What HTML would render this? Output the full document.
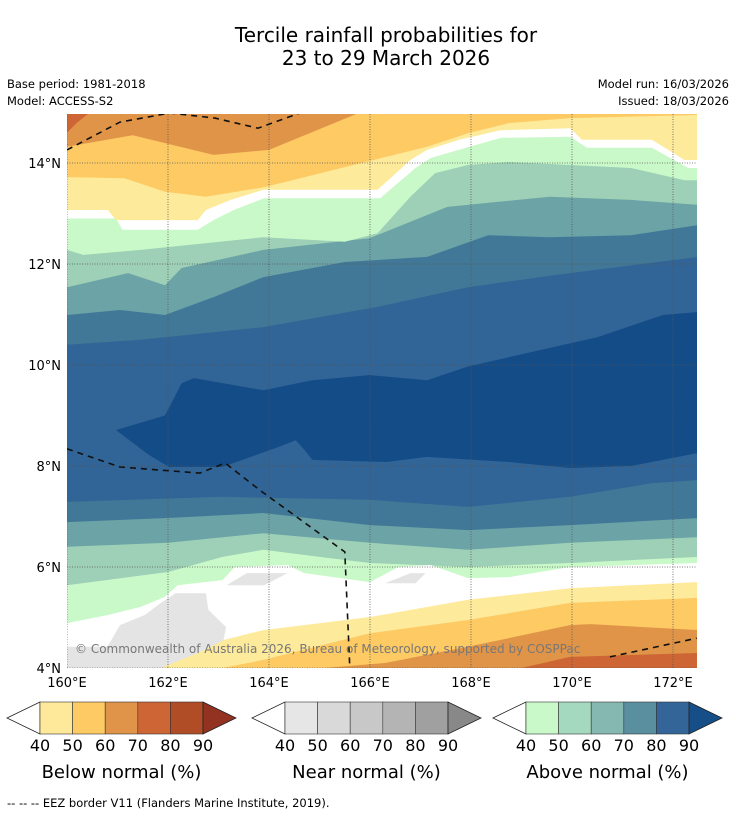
<!DOCTYPE html>
<html><head><meta charset="utf-8"><style>
html,body{margin:0;padding:0;background:#fff;}
body{width:736px;height:816px;overflow:hidden;font-family:"DejaVu Sans","Liberation Sans",sans-serif;}
svg text{font-family:"DejaVu Sans","Liberation Sans",sans-serif;}
</style></head><body>
<svg id="chart" width="736" height="816" viewBox="0 0 736 816" xmlns="http://www.w3.org/2000/svg">
<text x="386" y="42" font-size="20" text-anchor="middle">Tercile rainfall probabilities for</text>
<text x="386" y="65" font-size="20" text-anchor="middle">23 to 29 March 2026</text>
<text x="7" y="88" font-size="11.5">Base period: 1981-2018</text>
<text x="7" y="105" font-size="11.5">Model: ACCESS-S2</text>
<text x="729" y="88" font-size="11.5" text-anchor="end">Model run: 16/03/2026</text>
<text x="729" y="105" font-size="11.5" text-anchor="end">Issued: 18/03/2026</text>
<defs><clipPath id="mapclip"><rect x="67" y="114" width="630" height="554"/></clipPath></defs>
<g id="map" clip-path="url(#mapclip)"></g>
<g id="axes"></g>
<g id="legend"></g>
<text x="7" y="807" font-size="11.5">--  --  -- EEZ border V11 (Flanders Marine Institute, 2019).</text>
</svg>
<script>
// ---- data: contour boundaries as [lon, lat] pairs ----
const upperB70 = [[160,14.6],[160.2,14.8],[160.45,15.0]];
const upperB60 = [[160,14.32],[161.3,14.55],[162.9,14.16],[164,14.26],[165.8,15.0],[172.5,15.0]];
const upperB50 = [[160,13.72],[161.13,13.70],[161.94,13.43],[162.75,13.33],[163.9,13.52],[165.83,14.0],[167.13,14.32],[167.94,14.59],[168.75,14.79],[169.96,14.89],[172.5,14.95]];
const upperB40 = [[160,13.07],[160.81,13.07],[160.97,12.87],[162.59,12.87],[162.75,13.07],[163.24,13.27],[163.89,13.47],[166.15,13.47],[166.8,14.06],[167.13,14.26],[167.77,14.46],[168.58,14.65],[169.96,14.69],[170.2,14.46],[171.58,14.46],[172.23,14.06],[172.5,14.06]];
const upperWhite = [[160,12.9],[160.97,12.9],[161.1,12.68],[162.59,12.68],[162.9,12.87],[163.3,13.07],[163.9,13.3],[166.2,13.3],[166.9,13.9],[167.2,14.1],[167.9,14.3],[168.6,14.5],[169.96,14.52],[170.3,14.3],[171.58,14.3],[172.3,13.9],[172.5,13.9]];
const upperA40 = [[160,12.28],[160.32,12.18],[161.46,12.28],[163.89,12.53],[165.5,12.44],[166.15,12.61],[166.8,13.33],[167.29,13.8],[167.94,13.96],[168.75,14.02],[171.17,13.9],[172.23,13.66],[172.5,13.66]];
const upperA50 = [[160,11.54],[161.21,11.82],[161.94,11.58],[162.27,11.92],[163.89,12.28],[165.99,12.51],[167.53,13.13],[169.55,13.33],[171.17,13.27],[172.5,13.17]];
const upperA60 = [[160,10.99],[161.05,11.09],[161.94,10.99],[162.92,11.35],[163.89,11.74],[165.5,12.04],[167.13,12.14],[168.34,12.57],[169.55,12.53],[171.17,12.57],[172.5,12.77]];
const upperA70 = [[160,10.40],[161.46,10.50],[163.89,10.75],[166.15,11.15],[167.94,11.54],[169.96,11.82],[172.5,12.14]];
const coreA90Top = [[160.97,8.71],[161.4,8.84],[161.94,9.0],[162.27,9.64],[162.51,9.74],[163.89,9.5],[164.86,9.70],[165.99,9.80],[167.13,9.70],[167.94,9.97],[169.4,10.3],[170.5,10.55],[171.8,10.99],[172.5,11.05]];
const coreA90Bottom = [[160.97,8.71],[161.62,8.22],[162.02,7.98],[163.08,7.98],[164.2,8.38],[164.53,8.51],[164.7,8.32],[164.86,8.12],[166.32,8.08],[167.13,8.18],[168.75,8.08],[169.96,7.96],[171.17,8.0],[172.5,8.26]];
const lowerA80 = [[160,7.29],[163.08,7.39],[166,7.33],[167.94,7.19],[168.75,7.27],[169.96,7.39],[171.58,7.66],[172.5,7.72]];
const lowerA70 = [[160,6.89],[162,6.97],[163.89,7.07],[166,6.83],[167.94,6.73],[169.96,6.83],[172.5,6.97]];
const lowerA60 = [[160,6.40],[162,6.48],[163.89,6.67],[166,6.48],[167.94,6.34],[169.96,6.48],[172.5,6.59]];
const lowerA50 = [[160,5.64],[162,5.90],[163.08,6.20],[163.89,6.34],[165,6.2],[166,6.08],[167.94,6.0],[169.96,6.08],[172.5,6.20]];
const lowerA40 = [[160,4.89],[160.81,5.05],[161.46,5.21],[161.94,5.41],[162.19,5.64],[163.08,5.74],[163.32,6.0],[164.37,6.04],[164.7,5.88],[166,5.70],[166.56,6.0],[167.2,6.04],[167.94,5.78],[168.75,5.80],[169.96,6.0],[172.5,6.08]];
const lowerB40 = [[161.6,4.0],[162.6,4.3],[163.08,4.55],[163.89,4.75],[166,5.01],[167.94,5.35],[169.96,5.58],[172.5,5.70]];
const lowerB50 = [[163.08,4.0],[163.89,4.16],[166,4.69],[167.94,4.95],[169.96,5.29],[172.5,5.39]];
const lowerB60 = [[165.1,4.0],[166.3,4.10],[167.94,4.42],[169.96,4.85],[170.36,4.87],[172.5,4.75]];
const lowerB70 = [[169,4.0],[169.96,4.22],[172.5,4.30]];
const nearGrayA = [[160,4.0],[160,4.42],[160.8,4.42],[161.05,4.85],[161.54,5.05],[161.86,5.29],[162.15,5.48],[162.75,5.48],[162.8,5.15],[163.15,4.81],[163.1,4.55],[162.6,4.30],[161.9,4.02],[161.9,4.0]];
const nearGrayB = [[163.16,5.64],[163.56,5.88],[164.37,5.88],[163.9,5.64]];
const nearGrayC = [[166.3,5.68],[166.8,5.88],[167.1,5.88],[166.9,5.68]];
const eezTop = [[160,14.26],[161.05,14.81],[162.04,14.99],[162.93,14.89],[163.78,14.69],[164.61,14.99]];
const eezMid = [[160,8.34],[161.05,7.98],[162.63,7.86],[163.13,8.06],[163.82,7.52],[165.5,6.30],[165.6,4.0]];
const eezRight = [[170.75,4.22],[172.47,4.59]];
const lonTicks = [160,162,164,166,168,170,172];
const latTicks = [4,6,8,10,12,14];
const belowColors = ["#fee99a","#fdca64","#e0944a","#cd6535","#b04d26"];
const nearColors = ["#e6e6e6","#d9d9d9","#c8c8c8","#b4b4b4","#a0a0a0"];
const aboveColors = ["#c9f9c9","#a5d9bf","#84b8b0","#5a8fa0","#336599"];
const legendTicks = ["40","50","60","70","80","90"];

// ---- axis functions ----
const LON0=160, LAT0=4, X0=67, Y0=668, PX=50.5;
const LATTOP=15, LATBOT=4, LONMIN=160, LONMAX=172.5;
function xs(lon){return X0+(lon-LON0)*PX;}
function ys(lat){return Y0-(lat-LAT0)*PX;}
const NS="http://www.w3.org/2000/svg";
const map=document.getElementById('map');
function poly(pts,fill,name){
  const p=document.createElementNS(NS,'polygon');
  p.setAttribute('points',pts.map(q=>xs(q[0]).toFixed(1)+','+ys(q[1]).toFixed(1)).join(' '));
  p.setAttribute('fill',fill);
  
  
  map.appendChild(p);
}
function above(c,fill,name){const f=c[0],l=c[c.length-1];poly(c.concat([[l[0],LATTOP+0.2],[f[0],LATTOP+0.2]]),fill,name);}
function below(c,fill,name){const f=c[0],l=c[c.length-1];poly(c.concat([[l[0],LATBOT-0.2],[f[0],LATBOT-0.2]]),fill,name);}

const C={B40:"#feea9b",B50:"#fdca64",B60:"#e09448",B70:"#cd6535",A40:"#c9f9c9",A50:"#9dd0b6",A60:"#6ca3a6",A70:"#417897",A80:"#316497",A90:"#134c87",W:"#ffffff",G:"#e4e4e4"};
poly([[LONMIN,LATBOT],[LONMAX,LATBOT],[LONMAX,LATTOP],[LONMIN,LATTOP]],C.A80,'band-above-80');
above(upperA70,C.A70,'band-above-70-north');
above(upperA60,C.A60,'band-above-60-north');
above(upperA50,C.A50,'band-above-50-north');
above(upperA40,C.A40,'band-above-40-north');
above(upperWhite,C.W,'band-neutral-north');
above(upperB40,C.B40,'band-below-40-north');
above(upperB50,C.B50,'band-below-50-north');
above(upperB60,C.B60,'band-below-60-north');
above(upperB70,C.B70,'band-below-70-north');
poly(coreA90Top.concat(coreA90Bottom.slice().reverse()),C.A90,'band-above-90-core');
below(lowerA80,C.A70,'band-above-70-south');
below(lowerA70,C.A60,'band-above-60-south');
below(lowerA60,C.A50,'band-above-50-south');
below(lowerA50,C.A40,'band-above-40-south');
below(lowerA40,C.W,'band-neutral-south');
below(lowerB40,C.B40,'band-below-40-south');
poly(nearGrayA,C.G,'band-near-40-a');
poly(nearGrayB,C.G,'band-near-40-b');
poly(nearGrayC,C.G,'band-near-40-c');
below(lowerB50,C.B50,'band-below-50-south');
below(lowerB60,C.B60,'band-below-60-south');
below(lowerB70,C.B70,'band-below-70-south');

// gridlines
lonTicks.forEach(l=>{const g=document.createElementNS(NS,'line');
g.setAttribute('x1',xs(l));g.setAttribute('x2',xs(l));g.setAttribute('y1',114);g.setAttribute('y2',668);
g.setAttribute('stroke','#555');g.setAttribute('stroke-width','0.8');g.setAttribute('stroke-dasharray','1,1.5');


map.appendChild(g);});
latTicks.forEach(l=>{const g=document.createElementNS(NS,'line');
g.setAttribute('y1',ys(l));g.setAttribute('y2',ys(l));g.setAttribute('x1',67);g.setAttribute('x2',697);
g.setAttribute('stroke','#555');g.setAttribute('stroke-width','0.8');g.setAttribute('stroke-dasharray','1,1.5');


map.appendChild(g);});
// EEZ
[eezTop,eezMid,eezRight].forEach(c=>{const p=document.createElementNS(NS,'polyline');
p.setAttribute('points',c.map(q=>xs(q[0]).toFixed(1)+','+ys(q[1]).toFixed(1)).join(' '));
p.setAttribute('fill','none');p.setAttribute('stroke','#111');p.setAttribute('stroke-width','1.6');p.setAttribute('stroke-dasharray','6,5');


map.appendChild(p);});
// copyright
const cp=document.createElementNS(NS,'text');
cp.setAttribute('x',75);cp.setAttribute('y',653);cp.setAttribute('font-size','12');cp.setAttribute('fill','#777');
cp.textContent='\u00a9 Commonwealth of Australia 2026, Bureau of Meteorology, supported by COSPPac';


map.appendChild(cp);

// axis labels
const axes=document.getElementById('axes');
lonTicks.forEach(l=>{const t=document.createElementNS(NS,'text');
t.setAttribute('x',xs(l));t.setAttribute('y',687);t.setAttribute('font-size','13');t.setAttribute('text-anchor','middle');
t.textContent=l+'°E';


axes.appendChild(t);});
latTicks.forEach(l=>{const t=document.createElementNS(NS,'text');
t.setAttribute('x',61);t.setAttribute('y',ys(l)+5);t.setAttribute('font-size','13');t.setAttribute('text-anchor','end');
t.textContent=l+'°N';


axes.appendChild(t);});

// colorbars
const leg=document.getElementById('legend');
function colorbar(x0,colors,tip,title,name){
  const w=32.6,y=702,h=32,bx=x0+33;
  const g=document.createElementNS(NS,'g');
  
  
  const lt=document.createElementNS(NS,'polygon');
  lt.setAttribute('points',`${x0},${y+h/2} ${bx},${y} ${bx},${y+h}`);lt.setAttribute('fill','#fff');lt.setAttribute('stroke','#222');lt.setAttribute('stroke-width','0.8');
  g.appendChild(lt);
  colors.forEach((c,i)=>{const r=document.createElementNS(NS,'rect');
    r.setAttribute('x',bx+i*w);r.setAttribute('y',y);r.setAttribute('width',w);r.setAttribute('height',h);
    r.setAttribute('fill',c);r.setAttribute('stroke','#333');r.setAttribute('stroke-width','0.6');g.appendChild(r);});
  const ex=bx+colors.length*w;
  const rt=document.createElementNS(NS,'polygon');
  rt.setAttribute('points',`${ex},${y} ${ex+33},${y+h/2} ${ex},${y+h}`);rt.setAttribute('fill',tip);rt.setAttribute('stroke','#222');rt.setAttribute('stroke-width','0.8');
  g.appendChild(rt);
  legendTicks.forEach((s,i)=>{const t=document.createElementNS(NS,'text');
    t.setAttribute('x',bx+i*w);t.setAttribute('y',751);t.setAttribute('font-size','16');t.setAttribute('text-anchor','middle');t.textContent=s;g.appendChild(t);});
  const tt=document.createElementNS(NS,'text');
  tt.setAttribute('x',bx+colors.length*w/2);tt.setAttribute('y',778);tt.setAttribute('font-size','18');tt.setAttribute('text-anchor','middle');tt.textContent=title;g.appendChild(tt);
  leg.appendChild(g);
}
colorbar(7,belowColors,'#943222','Below normal (%)','colorbar-below-normal');
colorbar(252,nearColors,'#888888','Near normal (%)','colorbar-near-normal');
colorbar(493,aboveColors,'#164f88','Above normal (%)','colorbar-above-normal');
</script>
</body></html>
